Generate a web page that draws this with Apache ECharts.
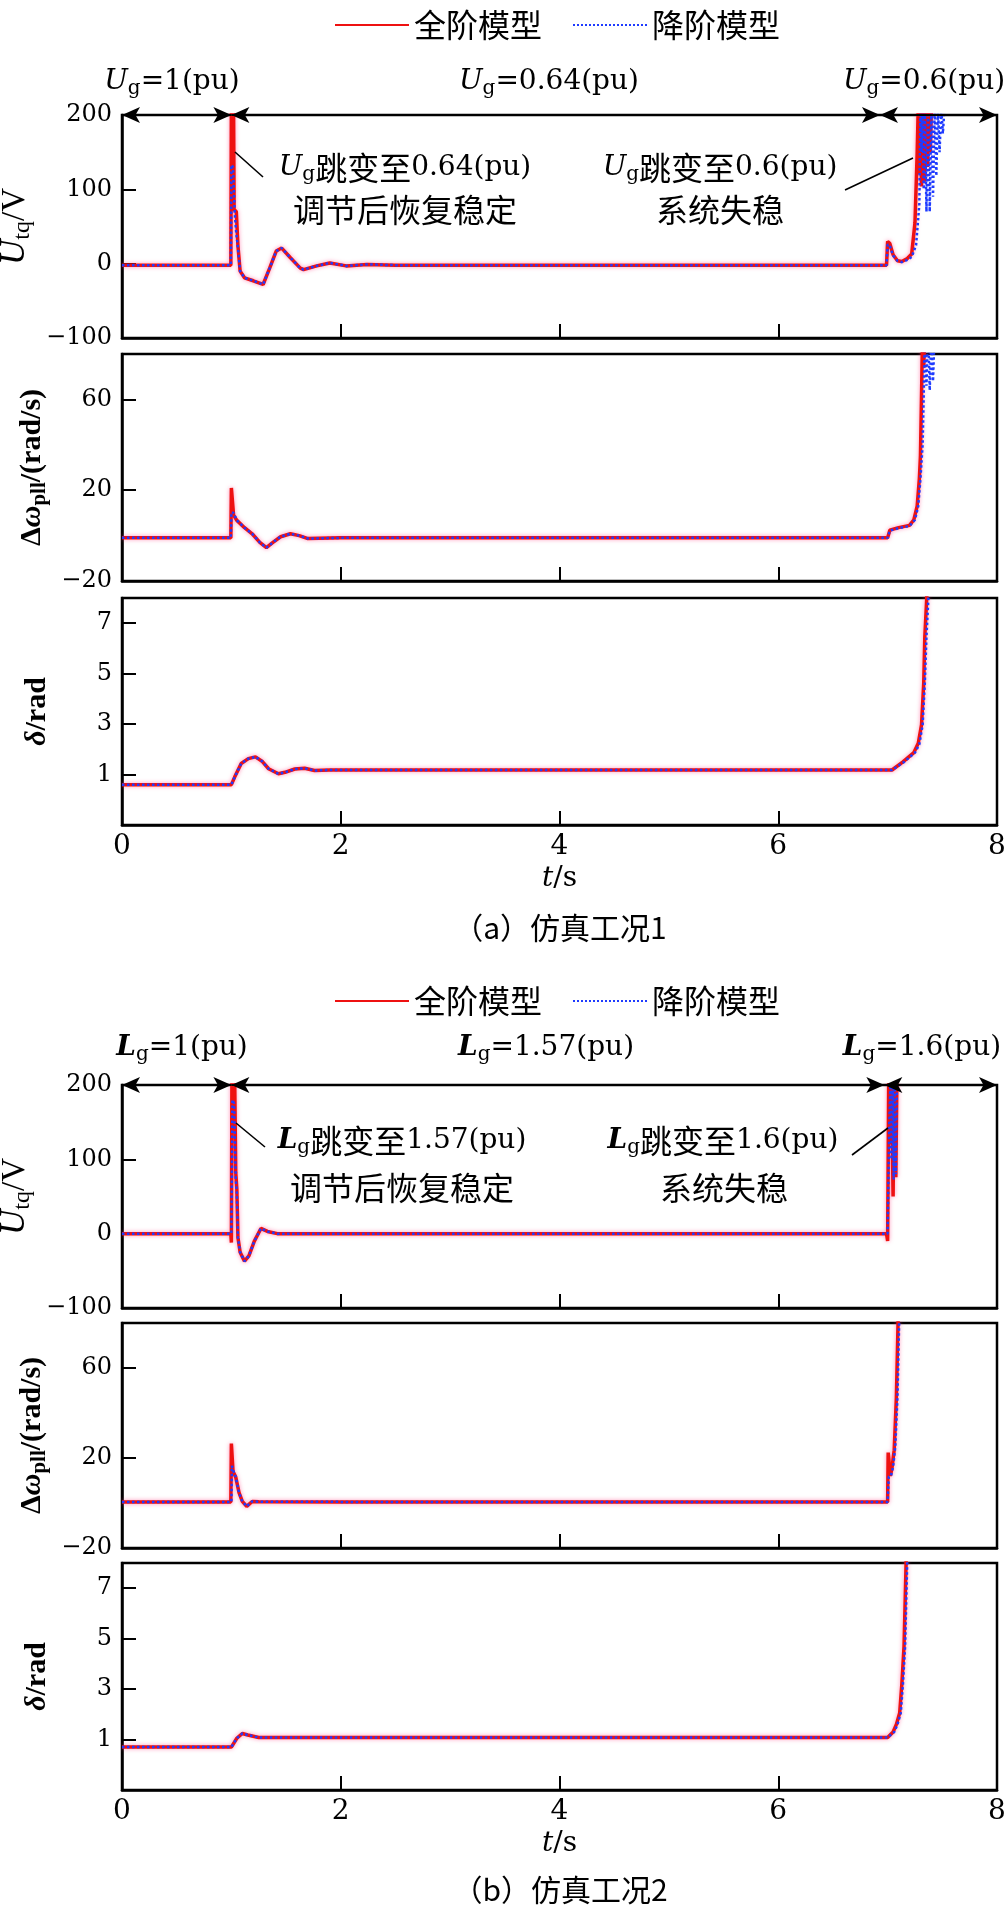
<!DOCTYPE html>
<html><head><meta charset="utf-8">
<script src="https://cdn.jsdelivr.net/npm/echarts@6/dist/echarts.min.js"></script>
<style>html,body{margin:0;padding:0;background:#fff}#c{width:1007px;height:1907px}</style>
</head><body><div id="c"></div>
<script>
// ---------- data (t in s) ----------
const seriesNames = ['全阶模型', '降阶模型'];
const xTicks = [0, 2, 4, 6, 8];
const utqTicks = [-100, 0, 100, 200];
const wTicks = [-20, 20, 60];
const dTicks = [1, 3, 5, 7];
const caseA_switchTimes = [0, 1, 6.93, 8];
const caseB_switchTimes = [0, 1, 6.97, 8];

const caseA_utq_full = [[0,-2],[0.995,-2],[1.0,210],[1.02,210],[1.025,73],[1.045,70],[1.06,24],[1.08,-10],[1.12,-19],[1.2,-23],[1.29,-28],[1.35,-6],[1.41,17],[1.46,21],[1.54,8],[1.63,-6],[1.66,-8],[1.78,-3],[1.9,1],[2.05,-3],[2.24,-1],[2.5,-2],[3,-2],[4,-2],[5,-2],[6,-2],[6.99,-2],[7.0,30],[7.02,27],[7.05,12],[7.09,4],[7.13,3],[7.18,7],[7.22,13],[7.25,55],[7.27,148],[7.28,210],[7.29,120],[7.30,210],[7.31,104],[7.32,210],[7.335,110],[7.35,210],[7.365,130],[7.38,210],[7.39,150],[7.40,210]];
const caseA_utq_red = [[0,-2],[0.995,-2],[1.0,133],[1.015,130],[1.03,70],[1.045,40],[1.06,22],[1.08,-10],[1.12,-19],[1.2,-23],[1.29,-28],[1.35,-6],[1.41,17],[1.46,21],[1.54,8],[1.63,-6],[1.66,-8],[1.78,-3],[1.9,1],[2.05,-3],[2.24,-1],[2.5,-2],[3,-2],[4,-2],[5,-2],[6,-2],[6.99,-2],[7.0,26],[7.02,24],[7.05,11],[7.09,4],[7.13,2],[7.18,5],[7.22,9],[7.26,25],[7.29,80],[7.30,210],[7.31,150],[7.32,210],[7.33,100],[7.34,210],[7.355,70],[7.37,210],[7.385,70],[7.40,210],[7.415,90],[7.43,210],[7.445,118],[7.46,210],[7.475,150],[7.49,210],[7.505,175],[7.52,210]];
const caseA_w_full = [[0,-1],[0.995,-1],[1.0,21],[1.015,21],[1.02,9],[1.05,6.7],[1.12,3.5],[1.19,0.8],[1.26,-3],[1.32,-5.3],[1.38,-3],[1.45,-0.5],[1.54,0.8],[1.62,0],[1.7,-1.3],[1.8,-1.2],[2,-1],[3,-1],[4,-1],[5,-1],[6,-1],[7.0,-1],[7.02,2.4],[7.1,3.5],[7.2,4.5],[7.24,7],[7.27,13],[7.29,25],[7.30,35],[7.31,62],[7.32,90],[7.33,74],[7.34,90]];
const caseA_w_red = [[0,-1],[0.995,-1],[1.0,10.3],[1.02,10],[1.05,6.7],[1.12,3.5],[1.19,0.8],[1.26,-3],[1.32,-5.3],[1.38,-3],[1.45,-0.5],[1.54,0.8],[1.62,0],[1.7,-1.3],[1.8,-1.2],[2,-1],[3,-1],[4,-1],[5,-1],[6,-1],[7.0,-1],[7.02,2.2],[7.1,3.3],[7.2,4.2],[7.25,7],[7.28,13],[7.30,25],[7.32,40],[7.33,62],[7.34,90],[7.355,66],[7.37,90],[7.385,64],[7.40,90],[7.415,68],[7.43,90]];
const caseA_d_full = [[0,0.6],[1.0,0.6],[1.03,0.9],[1.09,1.44],[1.155,1.63],[1.22,1.7],[1.28,1.53],[1.34,1.23],[1.43,1.03],[1.49,1.09],[1.58,1.22],[1.67,1.25],[1.76,1.16],[1.9,1.18],[2.5,1.18],[4,1.18],[6,1.18],[7.04,1.18],[7.14,1.5],[7.24,1.87],[7.28,2.24],[7.31,2.97],[7.33,4.62],[7.34,6.46],[7.36,8.2]];
const caseA_d_red = [[0,0.6],[1.0,0.6],[1.03,0.9],[1.09,1.44],[1.155,1.63],[1.22,1.7],[1.28,1.53],[1.34,1.23],[1.43,1.03],[1.49,1.09],[1.58,1.22],[1.67,1.25],[1.76,1.16],[1.9,1.18],[2.5,1.18],[4,1.18],[6,1.18],[7.04,1.18],[7.15,1.5],[7.25,1.87],[7.29,2.2],[7.32,2.97],[7.34,4.62],[7.355,6.46],[7.375,8.2]];

const caseB_utq_full = [[0,0],[0.995,0],[1.0,-12],[1.005,210],[1.02,210],[1.025,150],[1.03,210],[1.04,82],[1.05,60],[1.06,-5],[1.08,-25],[1.12,-37],[1.16,-30],[1.21,-10],[1.27,7],[1.33,3],[1.42,0],[2,0],[3,0],[4,0],[5,0],[6,0],[6.99,0],[7.0,-10],[7.01,210],[7.025,120],[7.035,210],[7.05,50],[7.06,210],[7.075,76],[7.085,210]];
const caseB_utq_red = [[0,0],[1.0,0],[1.01,180],[1.025,175],[1.04,75],[1.05,55],[1.06,-5],[1.08,-25],[1.12,-37],[1.16,-30],[1.21,-10],[1.27,7],[1.33,3],[1.42,0],[2,0],[3,0],[4,0],[5,0],[6,0],[7.0,0],[7.015,146],[7.025,200],[7.035,100],[7.045,210],[7.055,73],[7.065,210],[7.075,80],[7.085,210]];
const caseB_w_full = [[0,0.5],[0.995,0.5],[1.0,26.4],[1.01,26],[1.015,14],[1.04,11.5],[1.07,4.6],[1.1,0.7],[1.14,-1.5],[1.19,0.7],[1.25,0.6],[2,0.5],[3,0.5],[4,0.5],[5,0.5],[6,0.5],[7.0,0.5],[7.005,22.4],[7.02,22],[7.025,12],[7.04,15.6],[7.06,23.5],[7.08,47],[7.1,90]];
const caseB_w_red = [[0,0.5],[1.0,0.5],[1.005,16.5],[1.02,14],[1.04,11.5],[1.07,4.6],[1.1,0.7],[1.14,-1.5],[1.19,0.7],[1.25,0.6],[2,0.5],[3,0.5],[4,0.5],[5,0.5],[6,0.5],[7.0,0.5],[7.01,11.6],[7.03,12],[7.05,16],[7.07,25],[7.09,47],[7.11,90]];
const caseB_d_full = [[0,0.7],[1.0,0.7],[1.05,1.05],[1.1,1.24],[1.15,1.18],[1.25,1.08],[2,1.08],[4,1.08],[6,1.08],[7.0,1.08],[7.05,1.3],[7.08,1.6],[7.11,2.05],[7.13,3.2],[7.15,4.7],[7.17,8.2]];
const caseB_d_red = [[0,0.7],[1.0,0.7],[1.05,1.05],[1.1,1.24],[1.15,1.18],[1.25,1.08],[2,1.08],[4,1.08],[6,1.08],[7.0,1.08],[7.06,1.3],[7.09,1.6],[7.12,2.05],[7.14,3.2],[7.16,4.7],[7.18,8.2]];

// ---------- layout ----------
const gridBoxes = [[115,223],[354,227],[598,227],[1085,223],[1323,225],[1563,227]];
const yRanges = [[-100,200],[-20,80],[-1,8],[-100,200],[-20,80],[-1,8]];
const yTickSets = [utqTicks, wTicks, dTicks, utqTicks, wTicks, dTicks];
const panelData = [[caseA_utq_full,caseA_utq_red],[caseA_w_full,caseA_w_red],[caseA_d_full,caseA_d_red],
                   [caseB_utq_full,caseB_utq_red],[caseB_w_full,caseB_w_red],[caseB_d_full,caseB_d_red]];
const yNames = ['{I|U}{S|tq}{N|/V}', '{b|Δ}{bi|ω}{bs|pll}{b|/(rad/s)}', '{bi|δ}{b|/rad}'];
const yNameGaps = [76, 72, 70];

const nameRich = {
  I: {fontFamily:'Liberation Serif', fontStyle:'italic', fontSize:35, color:'#000'},
  N: {fontFamily:'Liberation Serif', fontSize:33, color:'#000'},
  S: {fontFamily:'Liberation Serif', fontSize:24, color:'#000', padding:[16,0,0,0]},
  b: {fontFamily:'Liberation Serif', fontWeight:'bold', fontSize:30, color:'#000'},
  bi:{fontFamily:'Liberation Serif', fontWeight:'bold', fontStyle:'italic', fontSize:30, color:'#000'},
  bs:{fontFamily:'Liberation Serif', fontWeight:'bold', fontSize:21, color:'#000', padding:[14,0,0,0]}
};
const fmtMinus = v => String(v).replace('-', '\u2212');

const grid = [], xAxis = [], yAxis = [], series = [];
gridBoxes.forEach((g, i) => {
  const bottomPanel = (i % 3 === 2);
  grid.push({left:122, width:875, top:g[0], height:g[1], show:true, borderColor:'#000', borderWidth:2.5,
    backgroundColor:'transparent', containLabel:false, outerBoundsMode:'none'});
  xAxis.push({
    type:'value', gridIndex:i, min:0, max:8,
    axisLine:{show:true, onZero:false, lineStyle:{color:'#000', width:2.5}},
    axisTick:{show:true, inside:true, length:14, customValues:xTicks, lineStyle:{color:'#000', width:2}},
    axisLabel:{show:bottomPanel, customValues:xTicks, fontFamily:'DejaVu Serif', fontSize:28, color:'#000', margin:8},
    splitLine:{show:false},
    name: bottomPanel ? '{i|t}/s' : '', nameLocation:'middle', nameGap:40,
    nameTextStyle:{fontFamily:'DejaVu Serif', fontSize:28, color:'#000', rich:{i:{fontFamily:'DejaVu Serif', fontStyle:'italic', fontSize:28, color:'#000'}}}
  });
  const r = yRanges[i];
  yAxis.push({
    type:'value', gridIndex:i, min:r[0], max:r[1],
    axisLine:{show:true, onZero:false, lineStyle:{color:'#000', width:2.5}},
    axisTick:{show:true, inside:true, length:14, customValues:yTickSets[i], lineStyle:{color:'#000', width:2}},
    axisLabel:{customValues:yTickSets[i], formatter:fmtMinus, fontFamily:'DejaVu Serif', fontSize:24, color:'#000', margin:10},
    splitLine:{show:false},
    name: yNames[i % 3], nameLocation:'middle', nameRotate:90, nameGap:yNameGaps[i % 3],
    nameTextStyle:{fontFamily:'Liberation Serif', fontSize:30, color:'#000', rich:nameRich}
  });
  series.push({
    name:seriesNames[0], type:'line', xAxisIndex:i, yAxisIndex:i, data:panelData[i][0],
    showSymbol:false, symbol:'none', clip:true, z:2,
    itemStyle:{color:'#ee1111'},
    lineStyle:{color:'#ee1111', width:3.5, shadowColor:'rgba(255,60,130,0.55)', shadowBlur:4}
  });
  series.push({
    name:seriesNames[1], type:'line', xAxisIndex:i, yAxisIndex:i, data:panelData[i][1],
    showSymbol:false, symbol:'none', clip:true, z:3,
    itemStyle:{color:'#1f3bff'},
    lineStyle:{color:'#1f3bff', width:2.5, type:'dotted'}
  });
});

function arrowSegs(times, yv) {
  const segs = [];
  for (let k = 0; k < times.length - 1; k++) segs.push([{coord:[times[k], yv]}, {coord:[times[k+1], yv]}]);
  return segs;
}
[[0, caseA_switchTimes], [3, caseB_switchTimes]].forEach(([gi, times]) => {
  series.push({
    name:'arrows', type:'line', xAxisIndex:gi, yAxisIndex:gi, data:[[0,-100]], showSymbol:false, symbol:'none',
    clip:false, silent:true, lineStyle:{opacity:0}, z:5,
    markLine:{silent:true, symbol:['arrow','arrow'], symbolSize:[12,18], label:{show:false},
      lineStyle:{color:'#000', width:2, type:'solid'}, emphasis:{disabled:true}, animation:false,
      data: arrowSegs(times, 200)}
  });
});

// ---------- annotations ----------
const richAnno = {
  u:{fontFamily:'DejaVu Serif', fontStyle:'italic', fontSize:28, fill:'#000'},
  ub:{fontFamily:'DejaVu Serif', fontStyle:'italic', fontWeight:'bold', fontSize:28, fill:'#000'},
  s:{fontFamily:'DejaVu Serif', fontSize:20, fill:'#000', padding:[13,0,0,0]},
  c:{fontFamily:'Noto Sans CJK SC', fontSize:32, fill:'#000'}
};
function txt(x, y, text, extra) {
  return {type:'text', x:x, y:y, silent:true, z:10,
    style:Object.assign({text:text, fill:'#000', align:'center', verticalAlign:'middle',
      fontFamily:'DejaVu Serif', fontSize:28, rich:richAnno}, extra || {})};
}
const cjk = {fontFamily:'Noto Sans CJK SC', fontSize:32};
function lead(x1, y1, x2, y2) {
  return {type:'line', silent:true, z:10, shape:{x1:x1, y1:y1, x2:x2, y2:y2}, style:{stroke:'#000', lineWidth:1.6}};
}
const graphic = [
  txt(172, 82, '{u|U}{s|g}=1(pu)'), txt(549, 82, '{u|U}{s|g}=0.64(pu)'), txt(924, 82, '{u|U}{s|g}=0.6(pu)'),
  txt(405, 168, '{u|U}{s|g}{c|跳变至}0.64(pu)'), txt(405, 210, '调节后恢复稳定', cjk),
  txt(720, 168, '{u|U}{s|g}{c|跳变至}0.6(pu)'), txt(720, 210, '系统失稳', cjk),
  lead(235, 152, 263, 177), lead(845, 190, 913, 158),
  txt(560, 928, '（a）仿真工况1', {fontFamily:'Noto Sans CJK SC', fontSize:30}),
  txt(182, 1048, '{ub|L}{s|g}=1(pu)'), txt(546, 1048, '{ub|L}{s|g}=1.57(pu)'), txt(922, 1048, '{ub|L}{s|g}=1.6(pu)'),
  txt(402, 1141, '{ub|L}{s|g}{c|跳变至}1.57(pu)'), txt(402, 1188, '调节后恢复稳定', cjk),
  txt(723, 1141, '{ub|L}{s|g}{c|跳变至}1.6(pu)'), txt(724, 1188, '系统失稳', cjk),
  lead(236, 1123, 265, 1147), lead(852, 1155, 888, 1128),
  txt(560, 1890, '（b）仿真工况2', {fontFamily:'Noto Sans CJK SC', fontSize:30})
];

const legendBase = {left:329, itemWidth:74, itemHeight:14, itemGap:30, data:seriesNames, selectedMode:false,
  itemStyle:{opacity:0},
  textStyle:{fontFamily:'Noto Sans CJK SC', fontSize:32, color:'#000'}};

const chart = echarts.init(document.getElementById('c'), null, {renderer:'canvas'});
chart.setOption({
  animation:false,
  backgroundColor:'#fff',
  legend:[Object.assign({top:4}, legendBase), Object.assign({top:980}, legendBase)],
  grid:grid, xAxis:xAxis, yAxis:yAxis, series:series, graphic:graphic
});
</script></body></html>
